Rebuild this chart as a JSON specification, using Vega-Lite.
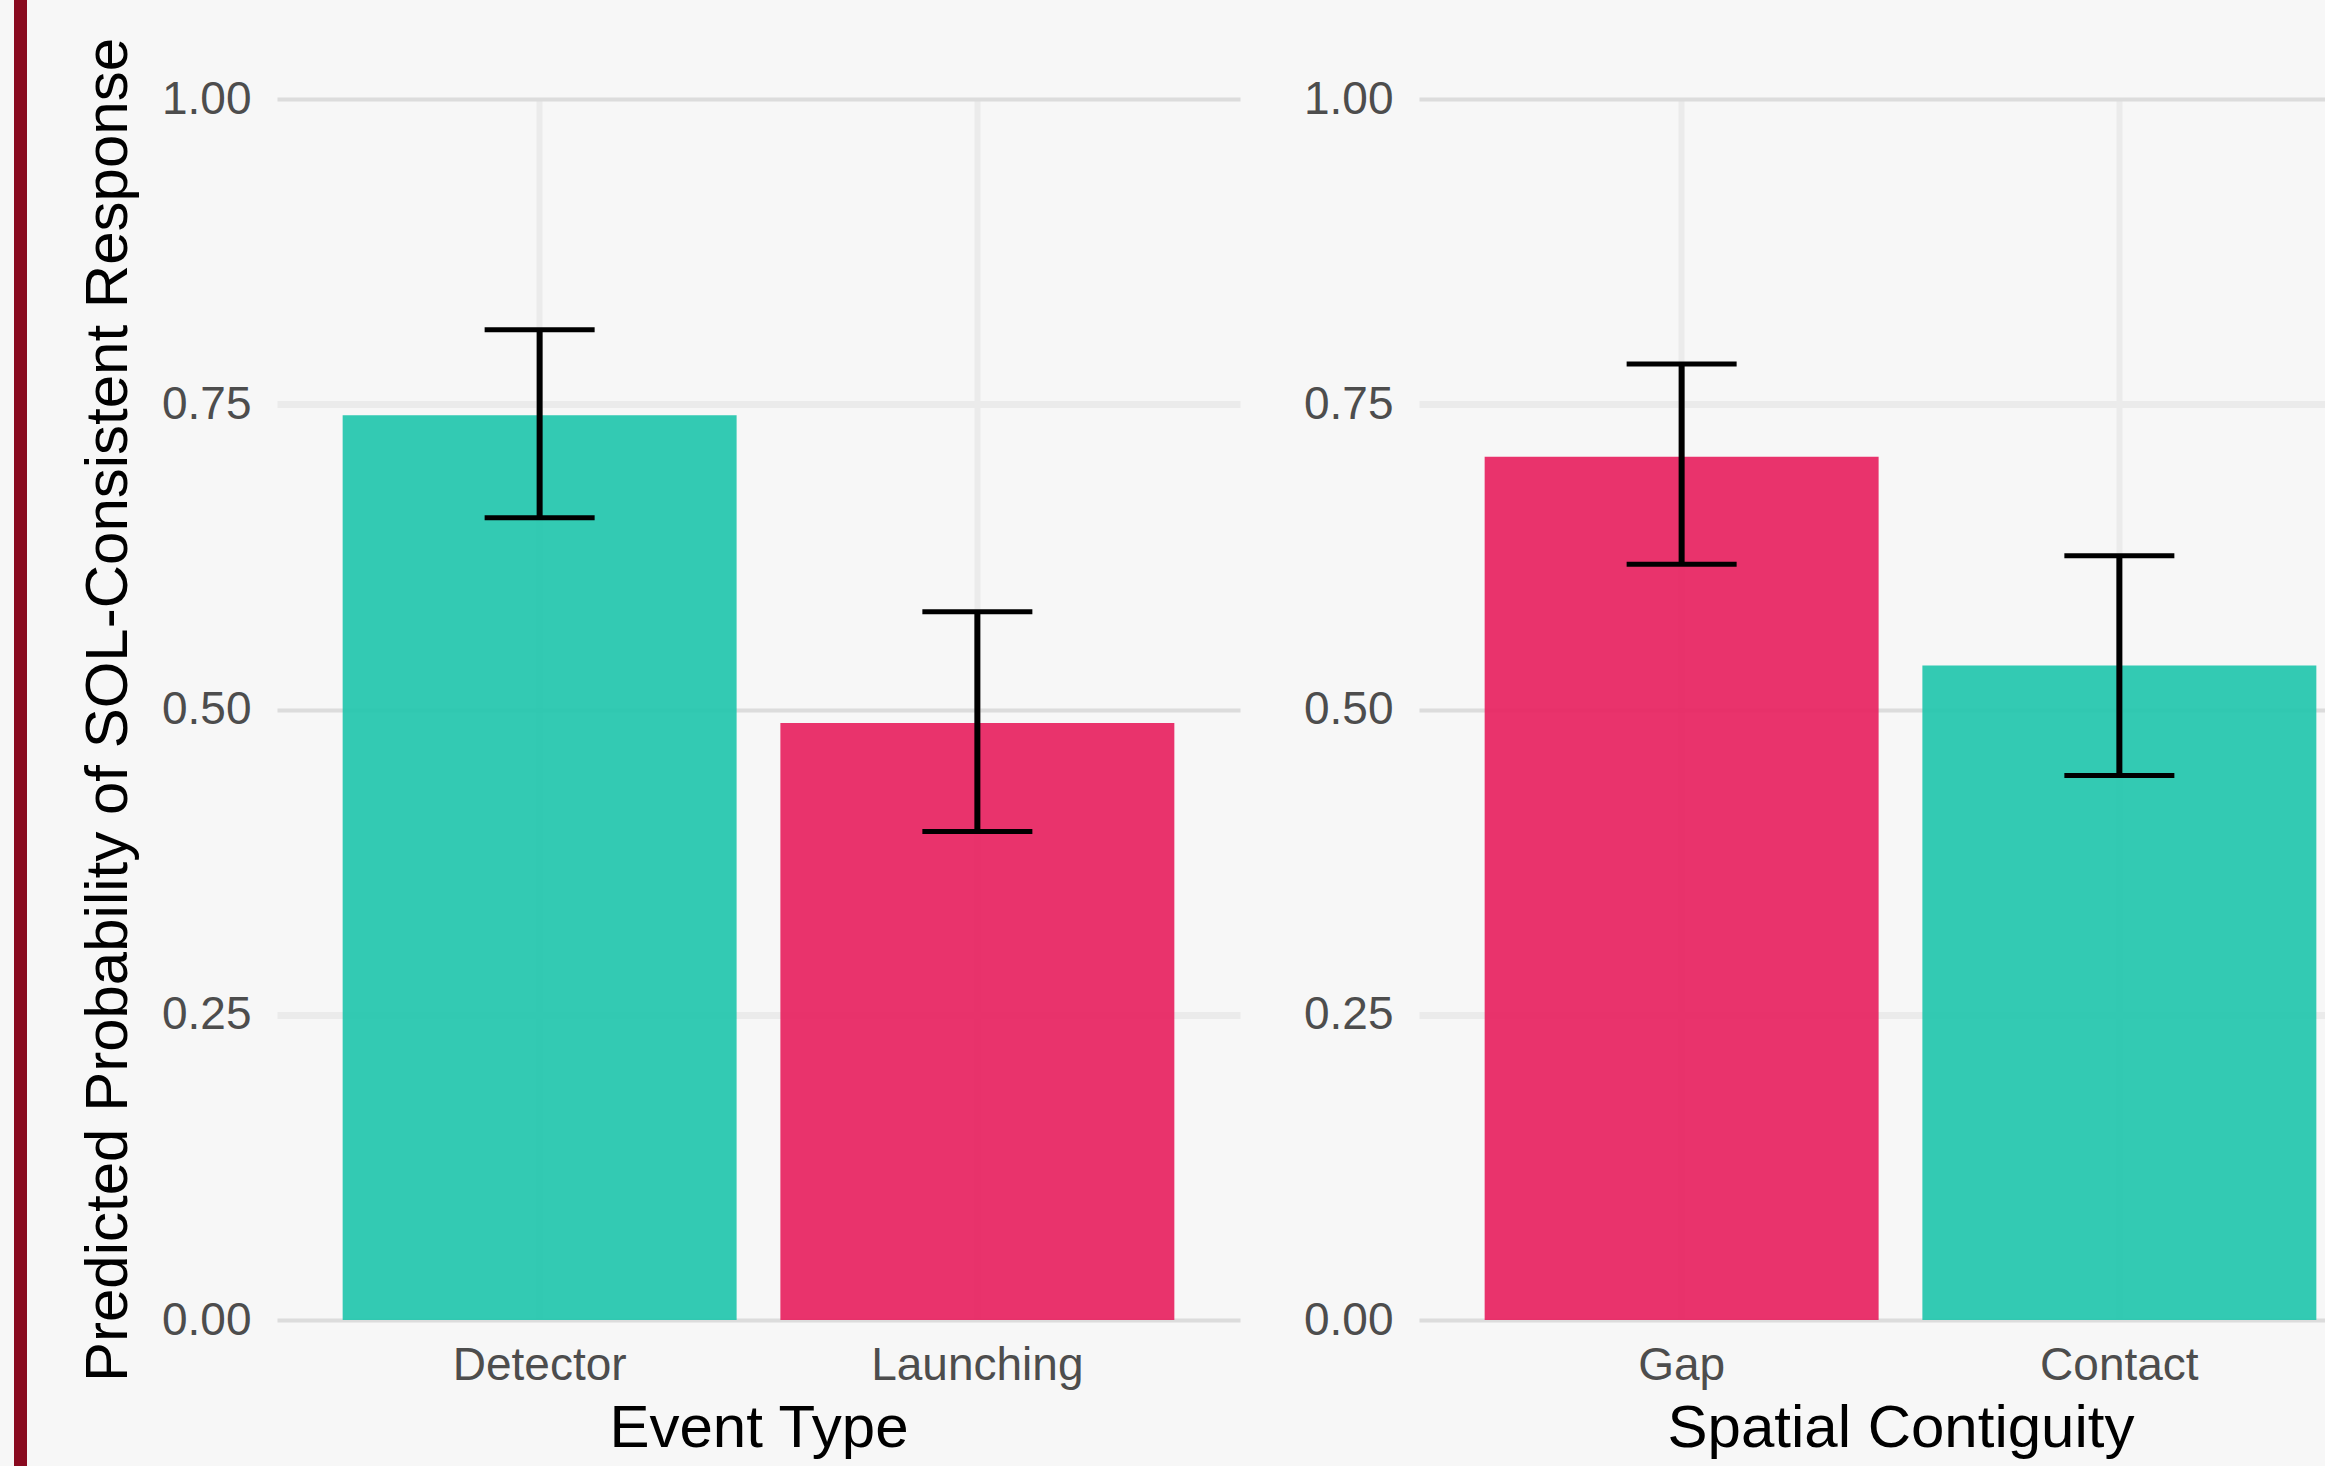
{
  "$schema": "https://vega.github.io/schema/vega-lite/v6.json",
  "background": "#f7f7f7",
  "padding": {"left": 14, "top": 0, "right": 0, "bottom": 0},
  "datasets": {
    "event_type": [
      {"level": "Detector", "prob": 0.741, "lo": 0.657, "hi": 0.811},
      {"level": "Launching", "prob": 0.489, "lo": 0.400, "hi": 0.580}
    ],
    "spatial_contiguity": [
      {"level": "Gap", "prob": 0.707, "lo": 0.619, "hi": 0.783},
      {"level": "Contact", "prob": 0.536, "lo": 0.446, "hi": 0.626}
    ]
  },
  "config": {
    "font": "Liberation Sans",
    "view": {"stroke": null},
    "axis": {
      "domain": false,
      "ticks": false,
      "labelFont": "Liberation Sans",
      "labelFontSize": 46,
      "labelColor": "#4d4d4d",
      "labelLimit": 0,
      "titleFont": "Liberation Sans",
      "titleFontSize": 60,
      "titleFontWeight": "normal",
      "titleColor": "#000000"
    },
    "axisX": {
      "labelAngle": 0,
      "labelPadding": 23,
      "titlePadding": 11,
      "grid": true,
      "gridColor": "#ebebeb",
      "gridWidth": 6
    },
    "axisY": {
      "labelPadding": 26,
      "titlePadding": 22,
      "grid": true
    }
  },
  "spacing": 51,
  "hconcat": [
    {
      "width": 13,
      "height": 1466,
      "view": {"fill": "#890a1f", "stroke": null},
      "data": {"values": []},
      "mark": "point",
      "encoding": {}
    },
    {
      "spacing": 0,
      "vconcat": [
        {
          "width": 1,
          "height": 37,
          "data": {"values": []},
          "mark": "point",
          "encoding": {}
        },
        {
          "spacing": 63,
          "hconcat": [
            {
              "width": 963,
              "height": 1221,
              "data": {"name": "event_type"},
              "encoding": {
                "x": {
                  "field": "level",
                  "type": "nominal",
                  "sort": ["Detector", "Launching"],
                  "scale": {"paddingInner": 0.1, "paddingOuter": 0.15},
                  "axis": {"title": "Event Type"}
                }
              },
              "layer": [
                {
                  "mark": {"type": "bar", "opacity": 0.92},
                  "encoding": {
                    "y": {
                      "field": "prob",
                      "type": "quantitative",
                      "scale": {"domain": [0, 1], "nice": false, "zero": true},
                      "axis": {
                        "title": "Predicted Probability of SOL-Consistent Response",
                        "values": [0, 0.25, 0.5, 0.75, 1],
                        "format": ".2f",
                        "gridColor": {"condition": {"test": "datum.value * 4 % 2 === 0", "value": "#dcdcdc"}, "value": "#ebebeb"},
                        "gridWidth": {"condition": {"test": "datum.value * 4 % 2 === 0", "value": 4}, "value": 7}
                      }
                    },
                    "color": {
                      "field": "level",
                      "type": "nominal",
                      "scale": {"domain": ["Detector", "Launching", "Gap", "Contact"], "range": ["#22c5ac", "#e7225f", "#e7225f", "#22c5ac"]},
                      "legend": null
                    }
                  }
                },
                {
                  "mark": {"type": "rule", "strokeWidth": 6, "color": "#000000"},
                  "encoding": {
                    "y": {"field": "lo", "type": "quantitative"},
                    "y2": {"field": "hi"}
                  }
                },
                {
                  "mark": {"type": "tick", "size": 110, "thickness": 5, "color": "#000000", "opacity": 1},
                  "encoding": {"y": {"field": "lo", "type": "quantitative"}}
                },
                {
                  "mark": {"type": "tick", "size": 110, "thickness": 5, "color": "#000000", "opacity": 1},
                  "encoding": {"y": {"field": "hi", "type": "quantitative"}}
                }
              ]
            },
            {
              "width": 963,
              "height": 1221,
              "data": {"name": "spatial_contiguity"},
              "encoding": {
                "x": {
                  "field": "level",
                  "type": "nominal",
                  "sort": ["Gap", "Contact"],
                  "scale": {"paddingInner": 0.1, "paddingOuter": 0.15},
                  "axis": {"title": "Spatial Contiguity"}
                }
              },
              "layer": [
                {
                  "mark": {"type": "bar", "opacity": 0.92},
                  "encoding": {
                    "y": {
                      "field": "prob",
                      "type": "quantitative",
                      "scale": {"domain": [0, 1], "nice": false, "zero": true},
                      "axis": {
                        "title": null,
                        "values": [0, 0.25, 0.5, 0.75, 1],
                        "format": ".2f",
                        "gridColor": {"condition": {"test": "datum.value * 4 % 2 === 0", "value": "#dcdcdc"}, "value": "#ebebeb"},
                        "gridWidth": {"condition": {"test": "datum.value * 4 % 2 === 0", "value": 4}, "value": 7}
                      }
                    },
                    "color": {
                      "field": "level",
                      "type": "nominal",
                      "scale": {"domain": ["Detector", "Launching", "Gap", "Contact"], "range": ["#22c5ac", "#e7225f", "#e7225f", "#22c5ac"]},
                      "legend": null
                    }
                  }
                },
                {
                  "mark": {"type": "rule", "strokeWidth": 6, "color": "#000000"},
                  "encoding": {
                    "y": {"field": "lo", "type": "quantitative"},
                    "y2": {"field": "hi"}
                  }
                },
                {
                  "mark": {"type": "tick", "size": 110, "thickness": 5, "color": "#000000", "opacity": 1},
                  "encoding": {"y": {"field": "lo", "type": "quantitative"}}
                },
                {
                  "mark": {"type": "tick", "size": 110, "thickness": 5, "color": "#000000", "opacity": 1},
                  "encoding": {"y": {"field": "hi", "type": "quantitative"}}
                }
              ]
            }
          ]
        }
      ]
    }
  ]
}
